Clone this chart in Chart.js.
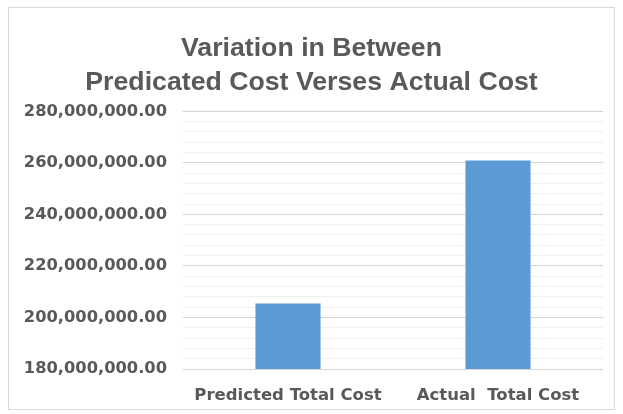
<!DOCTYPE html>
<html>
<head>
  <meta charset="UTF-8">
  <title>Variation in Between Predicated Cost Verses Actual Cost</title>
  <style>
    html, body { margin: 0; padding: 0; background: #fff; }
    #wrap { position: relative; width: 623px; height: 414px; }
    #frame { position: absolute; left: 8px; top: 7px; width: 605px; height: 401px; border: 1px solid #d9d9d9; pointer-events: none; }
  </style>
</head>
<body>
<div id="wrap">
  <canvas id="myChart"></canvas>
  <div id="frame"></div>
</div>
<script src="https://cdn.jsdelivr.net/npm/chart.js"></script>
<script>
const categories = ['Predicted Total Cost', 'Actual  Total Cost'];
const costValues = [205400000, 260900000];
const titleLines = ['Variation in Between', 'Predicated Cost Verses Actual Cost'];
const yMin = 180000000, yMax = 280000000;
const majorStep = 20000000, minorStep = 4000000;

const textColor = '#595959';

const config = {
  type: 'bar',
  data: {
    labels: categories,
    datasets: [{
      label: 'Cost',
      data: costValues,
      backgroundColor: '#5b9bd5',
      borderWidth: 0,
      categoryPercentage: 1,
      barPercentage: 0.31
    }]
  },
  options: {
    responsive: true,
    maintainAspectRatio: false,
    animation: false,
    layout: { padding: { left: 20, right: 20, top: 0, bottom: 0 } },
    plugins: {
      legend: { display: false },
      tooltip: { enabled: false },
      title: {
        display: true,
        text: titleLines,
        color: textColor,
        font: { family: '"Liberation Sans", Arial, sans-serif', size: 26.7, weight: 'bold', lineHeight: 1.26 },
        padding: { top: 32, bottom: 12 }
      }
    },
    scales: {
      x: {
        grid: { display: false, drawTicks: false },
        border: { display: false },
        afterFit: s => { s.height = 45; },
        ticks: {
          color: textColor,
          padding: 17,
          font: { family: '"DejaVu Sans", sans-serif', size: 16.5, weight: 'bold' }
        }
      },
      y: {
        min: yMin,
        max: yMax,
        border: { display: false },
        afterFit: s => { s.width = 163; },
        grid: {
          drawTicks: false,
          color: ctx => (ctx.tick && ctx.tick.value % majorStep === 0) ? '#d4d4d4' : '#f1f1f1'
        },
        ticks: {
          stepSize: minorStep,
          autoSkip: false,
          color: textColor,
          padding: 16,
          font: { family: '"DejaVu Sans", sans-serif', size: 16.3, weight: 'bold' },
          callback: v => v % majorStep === 0
            ? v.toLocaleString('en-US', { minimumFractionDigits: 2, maximumFractionDigits: 2 })
            : ''
        }
      }
    }
  }
};

const myChart = new Chart(document.getElementById('myChart'), config);
</script>
</body>
</html>
